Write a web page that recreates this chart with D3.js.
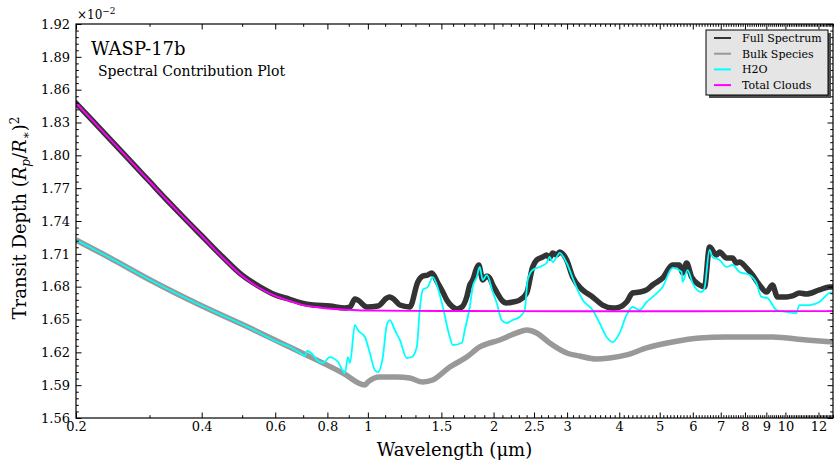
<!DOCTYPE html>
<html>
<head>
<meta charset="utf-8">
<script src="https://cdn.jsdelivr.net/npm/d3@7"></script>
<style>
  body { margin: 0; background: #fff; }
  svg text { font-family: "DejaVu Serif", serif; fill: #000; }
</style>
</head>
<body>
<div id="container"></div>
<script>
/* CONSTANTS AND GLOBALS */
const width = 840,
      height = 467,
      margin = {top: 24, bottom: 49, left: 76, right: 7};

/* DATA (transit depth in units of 1e-2, wavelength in µm) */
const seriesNames = ["Full Spectrum", "Bulk Species", "H2O", "Total Clouds"];

const fullSpectrum = [
  [0.2,1.8478],[0.22,1.8310],[0.25,1.8084],[0.28,1.7883],[0.3,1.7761],[0.33,1.7592],
  [0.36,1.7442],[0.4,1.7265],[0.45,1.7068],[0.5,1.6905],[0.55,1.6800],[0.6,1.6725],
  [0.65,1.6685],[0.688,1.6655],[0.739,1.6632],[0.811,1.6623],[0.881,1.6605],[0.906,1.6614],
  [0.931,1.6687],[0.946,1.6678],[0.995,1.6614],[1.057,1.6623],[1.110,1.6696],[1.129,1.6706],
  [1.160,1.6678],[1.193,1.6632],[1.260,1.6614],[1.317,1.6843],[1.354,1.6897],[1.392,1.6907],
  [1.422,1.6925],[1.471,1.6833],[1.512,1.6751],[1.545,1.6678],[1.597,1.6614],[1.633,1.6596],
  [1.679,1.6614],[1.725,1.6706],[1.754,1.6815],[1.783,1.6861],[1.823,1.6971],[1.843,1.6998],
  [1.884,1.6861],[1.927,1.6897],[1.958,1.6879],[1.991,1.6815],[2.035,1.6751],[2.092,1.6678],
  [2.150,1.6651],[2.223,1.6660],[2.310,1.6678],[2.401,1.6742],[2.481,1.6980],[2.537,1.7044],
  [2.622,1.7071],[2.680,1.7089],[2.725,1.7062],[2.771,1.7108],[2.832,1.7089],[2.879,1.7117],
  [2.993,1.7044],[3.094,1.6888],[3.269,1.6770],[3.453,1.6706],[3.649,1.6632],[3.856,1.6605],
  [4.008,1.6614],[4.165,1.6660],[4.305,1.6742],[4.475,1.6751],[4.651,1.6770],[4.807,1.6815],
  [5.079,1.6879],[5.367,1.6998],[5.578,1.6998],[5.671,1.6925],[5.798,1.7016],[5.960,1.6888],
  [6.227,1.6815],[6.401,1.6797],[6.580,1.7162],[6.839,1.7089],[6.953,1.7117],[7.227,1.7062],
  [7.469,1.7062],[7.636,1.7016],[7.762,1.7025],[8.068,1.6971],[8.340,1.6907],[8.667,1.6815],
  [9.006,1.6751],[9.309,1.6815],[9.570,1.6706],[10.06,1.6706],[10.39,1.6715],[10.80,1.6742],
  [11.22,1.6733],[12.06,1.6770],[12.74,1.6797],[13.0,1.6797]
];

const bulkSpecies = [
  [0.2,1.7226],[0.2415,1.7062],[0.301,1.6861],[0.3963,1.6632],[0.5221,1.6422],[0.688,1.6203],
  [0.871,1.6011],[0.984,1.5902],[1.0,1.5929],[1.068,1.5975],[1.173,1.5975],[1.260,1.5965],
  [1.354,1.5929],[1.430,1.5947],[1.571,1.6066],[1.725,1.6157],[1.853,1.6249],[2.069,1.6313],
  [2.272,1.6377],[2.401,1.6404],[2.537,1.6377],[2.725,1.6285],[2.993,1.6194],[3.215,1.6166],
  [3.530,1.6139],[3.793,1.6148],[4.165,1.6176],[4.651,1.6240],[5.367,1.6294],[6.227,1.6331],
  [7.227,1.6340],[9.309,1.6340],[11.22,1.6313],[13.0,1.6294]
];

const h2o = [
  [0.2,1.7226],[0.2415,1.7062],[0.301,1.6861],[0.3963,1.6632],[0.5221,1.6422],[0.616,1.6285],
  [0.651,1.6249],[0.688,1.6194],[0.707,1.6166],[0.715,1.6212],[0.739,1.6176],[0.755,1.6130],
  [0.780,1.6103],[0.811,1.6157],[0.825,1.6148],[0.848,1.6112],[0.881,1.6011],[0.896,1.6157],
  [0.906,1.6103],[0.931,1.6450],[0.946,1.6404],[0.984,1.6340],[1.011,1.6194],[1.039,1.6039],
  [1.057,1.6020],[1.086,1.6157],[1.110,1.6450],[1.129,1.6495],[1.160,1.6404],[1.193,1.6313],
  [1.240,1.6148],[1.274,1.6157],[1.310,1.6249],[1.331,1.6587],[1.354,1.6770],[1.392,1.6797],
  [1.430,1.6888],[1.471,1.6788],[1.512,1.6614],[1.571,1.6340],[1.597,1.6267],[1.679,1.6285],
  [1.707,1.6404],[1.754,1.6614],[1.783,1.6797],[1.823,1.6888],[1.853,1.6980],[1.884,1.6861],
  [1.927,1.6907],[1.991,1.6751],[2.035,1.6651],[2.092,1.6495],[2.150,1.6468],[2.223,1.6495],
  [2.310,1.6523],[2.375,1.6587],[2.414,1.6861],[2.481,1.6952],[2.579,1.6980],[2.680,1.7016],
  [2.725,1.7071],[2.771,1.7025],[2.832,1.7071],[2.879,1.7108],[2.993,1.7016],[3.128,1.6833],
  [3.269,1.6678],[3.453,1.6587],[3.589,1.6468],[3.730,1.6340],[3.856,1.6294],[4.008,1.6377],
  [4.165,1.6541],[4.305,1.6614],[4.475,1.6587],[4.651,1.6660],[4.807,1.6706],[5.079,1.6797],
  [5.367,1.6971],[5.640,1.6934],[5.671,1.6843],[5.830,1.6952],[5.992,1.6833],[6.296,1.6751],
  [6.401,1.6788],[6.580,1.7135],[6.690,1.7071],[6.953,1.7044],[7.227,1.6980],[7.469,1.6998],
  [7.762,1.6934],[8.203,1.6907],[8.525,1.6833],[8.763,1.6706],[9.056,1.6696],[9.517,1.6587],
  [10.06,1.6569],[10.62,1.6559],[10.80,1.6632],[11.41,1.6632],[12.06,1.6660],[12.74,1.6742],
  [13.0,1.6751]
];

const totalClouds = [
  [0.2,1.8478],[0.22,1.8310],[0.25,1.8084],[0.28,1.7883],[0.3,1.7761],[0.33,1.7592],
  [0.36,1.7442],[0.4,1.7265],[0.45,1.7062],[0.5,1.6898],[0.55,1.6788],[0.6,1.6715],
  [0.65,1.6669],[0.7,1.6632],[0.75,1.6614],[0.8,1.6600],[0.9,1.6589],[1.0,1.6582],
  [1.5,1.6578],[3,1.6576],[6,1.6576],[13,1.6577]
];

const xTickValues = [0.2,0.4,0.6,0.8,1,1.5,2,2.5,3,4,5,6,7,8,9,10,12];
const yTickValues = [1.56,1.59,1.62,1.65,1.68,1.71,1.74,1.77,1.80,1.83,1.86,1.89,1.92];

const colors = ["#333333", "#999999", "#00ffff", "#ff00ff"];

/* SCALES */
const xScale = d3.scaleLog()
  .domain([0.2, 13])
  .range([margin.left, width - margin.right]);

const yScale = d3.scaleLinear()
  .domain([1.56, 1.92])
  .range([height - margin.bottom, margin.top]);

// minor ticks: every 0.1 µm on x, every 0.006 on y
const xMinor = d3.range(3, 131).map(d => d / 10).filter(d => !xTickValues.some(t => Math.abs(t - d) < 1e-9));
const yMinor = d3.range(0, 61).map(d => 1.56 + d * 0.006).filter((d, i) => i % 5 !== 0);

const svg = d3.select("#container")
  .append("svg")
  .attr("width", width)
  .attr("height", height);

svg.append("defs").append("clipPath").attr("id", "plotclip")
  .append("rect")
  .attr("x", margin.left).attr("y", margin.top)
  .attr("width", width - margin.left - margin.right)
  .attr("height", height - margin.top - margin.bottom);

/* LINES */
const line = d3.line()
  .curve(d3.curveMonotoneX)
  .x(d => xScale(d[0]))
  .y(d => yScale(d[1]));

const lines = svg.append("g").attr("clip-path", "url(#plotclip)");

lines.append("path").datum(fullSpectrum)
  .attr("d", line).attr("fill", "none")
  .attr("stroke", colors[0]).attr("stroke-width", 5.5)
  .attr("stroke-linejoin", "round").attr("stroke-linecap", "round");

lines.append("path").datum(bulkSpecies)
  .attr("d", line).attr("fill", "none")
  .attr("stroke", colors[1]).attr("stroke-width", 5.5)
  .attr("stroke-linejoin", "round");

lines.append("path").datum(h2o)
  .attr("d", line).attr("fill", "none")
  .attr("stroke", colors[2]).attr("stroke-width", 1.8)
  .attr("stroke-linejoin", "round");

lines.append("path").datum(totalClouds)
  .attr("d", line).attr("fill", "none")
  .attr("stroke", colors[3]).attr("stroke-width", 1.9)
  .attr("stroke-linejoin", "round");

/* AXES */
const bottomY = height - margin.bottom;
const rightX = width - margin.right;

const fmtX = d => String(d);
const fmtY = d => d.toFixed(2);

function styleAxis(g) {
  g.select(".domain").remove();
  g.selectAll("line").attr("stroke", "#000");
  g.selectAll("text").attr("font-size", 13).attr("font-family", "DejaVu Serif, serif");
}

// bottom
svg.append("g").attr("transform", `translate(0,${bottomY})`)
  .call(d3.axisBottom(xScale).tickValues(xTickValues).tickFormat(fmtX).tickSize(-5.5).tickPadding(4))
  .call(styleAxis);
svg.append("g").attr("transform", `translate(0,${bottomY})`)
  .call(d3.axisBottom(xScale).tickValues(xMinor).tickFormat("").tickSize(-2.8))
  .call(styleAxis);
// top
svg.append("g").attr("transform", `translate(0,${margin.top})`)
  .call(d3.axisTop(xScale).tickValues(xTickValues).tickFormat("").tickSize(-5.5))
  .call(styleAxis);
svg.append("g").attr("transform", `translate(0,${margin.top})`)
  .call(d3.axisTop(xScale).tickValues(xMinor).tickFormat("").tickSize(-2.8))
  .call(styleAxis);
// left
svg.append("g").attr("transform", `translate(${margin.left},0)`)
  .call(d3.axisLeft(yScale).tickValues(yTickValues).tickFormat(fmtY).tickSize(-5.5).tickPadding(6))
  .call(styleAxis);
svg.append("g").attr("transform", `translate(${margin.left},0)`)
  .call(d3.axisLeft(yScale).tickValues(yMinor).tickFormat("").tickSize(-2.8))
  .call(styleAxis);
// right
svg.append("g").attr("transform", `translate(${rightX},0)`)
  .call(d3.axisRight(yScale).tickValues(yTickValues).tickFormat("").tickSize(-5.5))
  .call(styleAxis);
svg.append("g").attr("transform", `translate(${rightX},0)`)
  .call(d3.axisRight(yScale).tickValues(yMinor).tickFormat("").tickSize(-2.8))
  .call(styleAxis);

// frame
svg.append("rect")
  .attr("x", margin.left).attr("y", margin.top)
  .attr("width", rightX - margin.left).attr("height", bottomY - margin.top)
  .attr("fill", "none").attr("stroke", "#000").attr("stroke-width", 1.2);

/* TEXT */
const offset = svg.append("text").attr("x", 77).attr("y", 19).attr("font-size", 12);
offset.append("tspan").text("×10");
offset.append("tspan").attr("font-size", 9).attr("dy", -5).text("−2");

svg.append("text").attr("x", 91).attr("y", 55).attr("font-size", 18).text("WASP-17b");
svg.append("text").attr("x", 98).attr("y", 76).attr("font-size", 14).text("Spectral Contribution Plot");

svg.append("text")
  .attr("x", (margin.left + rightX) / 2).attr("y", 456)
  .attr("text-anchor", "middle").attr("font-size", 18)
  .text("Wavelength (μm)");

const ylab = svg.append("text")
  .attr("transform", "translate(26,218) rotate(-90)")
  .attr("text-anchor", "middle").attr("font-size", 18);
ylab.append("tspan").text("Transit Depth (");
ylab.append("tspan").attr("font-style", "italic").text("R");
ylab.append("tspan").attr("font-size", 12).attr("font-style", "italic").attr("dy", 4).text("p");
ylab.append("tspan").attr("dy", -4).text("/");
ylab.append("tspan").attr("font-style", "italic").text("R");
ylab.append("tspan").attr("font-size", 12).attr("dy", 4).text("∗");
ylab.append("tspan").attr("dy", -4).text(")");
ylab.append("tspan").attr("font-size", 12).attr("dy", -7).text("2");

/* LEGEND */
const lg = svg.append("g").attr("transform", "translate(706,30)");
lg.append("rect").attr("x", 3).attr("y", 3).attr("width", 122).attr("height", 65).attr("fill", "#4d4d4d");
lg.append("rect").attr("width", 122).attr("height", 65).attr("fill", "#e5e5e5").attr("stroke", "#000").attr("stroke-width", 1);

const rows = lg.selectAll("g.row")
  .data(seriesNames)
  .join("g")
  .attr("class", "row")
  .attr("transform", (d, i) => `translate(0,${8 + i * 15.7})`);

rows.append("line")
  .attr("x1", 8).attr("x2", 25).attr("y1", 0).attr("y2", 0)
  .attr("stroke", (d, i) => colors[i]).attr("stroke-width", 2);

rows.append("text")
  .attr("x", 36).attr("y", 4)
  .attr("font-size", 11)
  .text(d => d);
</script>
</body>
</html>
